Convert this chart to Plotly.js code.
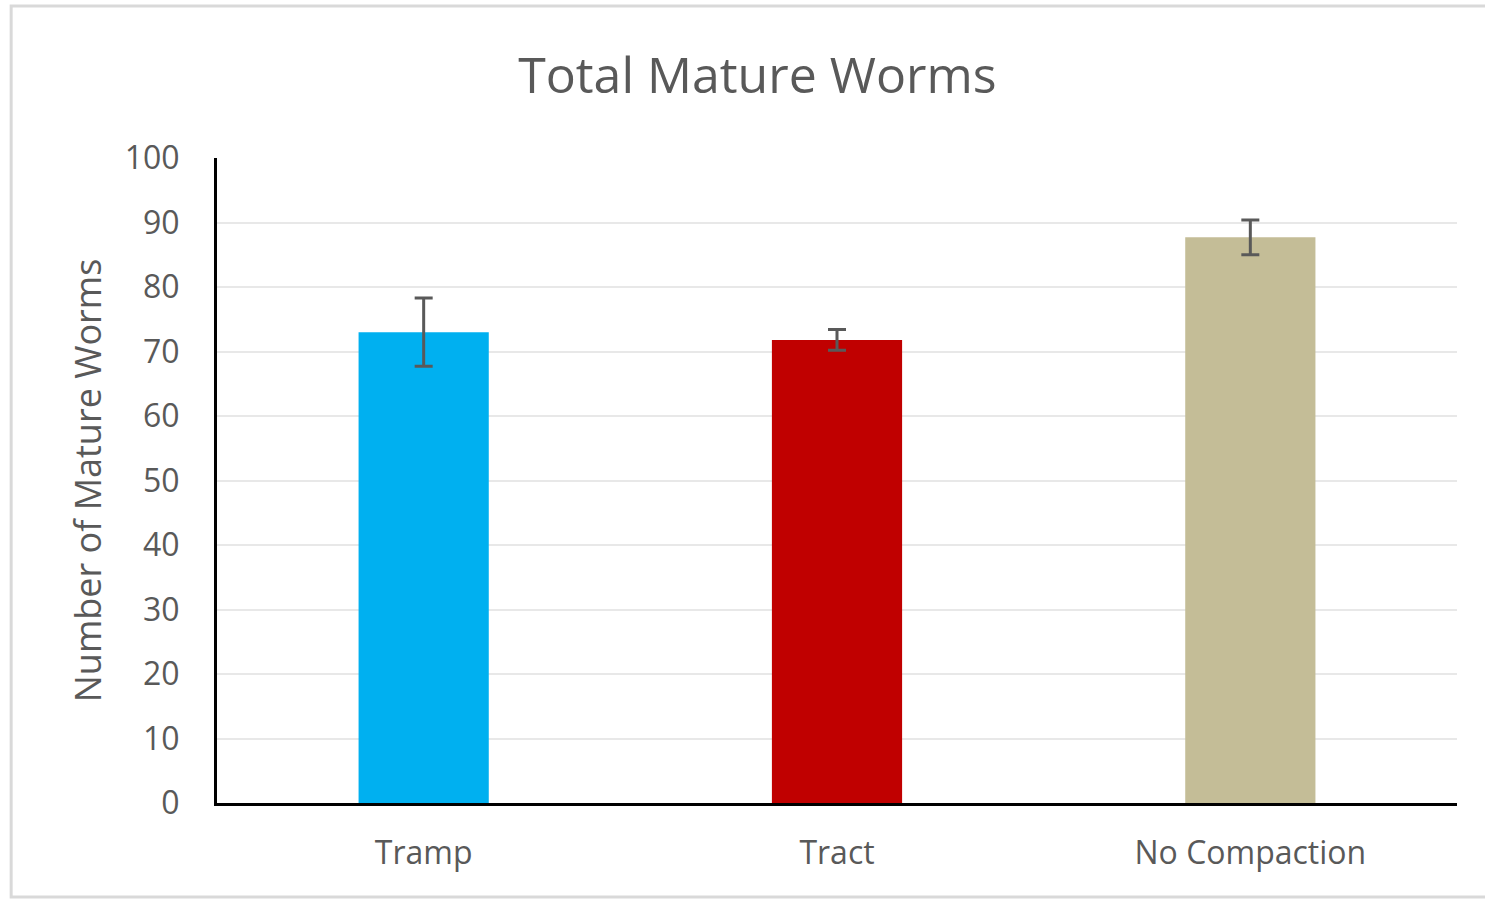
<!DOCTYPE html>
<html>
<head>
<meta charset="utf-8">
<script src="https://cdn.plot.ly/plotly-3.0.1.min.js"></script>
<style>html,body{margin:0;padding:0;background:#fff;}#chart{width:1485px;height:899px;}</style>
</head>
<body>
<div id="chart"></div>
<script>
const categories = ["Tramp", "Tract", "No Compaction"];
const values = [73.0, 71.8, 87.7];
const errors = [5.3, 1.6, 2.7];
const barColors = ["#00B0F0", "#C00000", "#C4BD97"];
const yTicks = [0, 10, 20, 30, 40, 50, 60, 70, 80, 90, 100];

const trace = {
  type: "bar",
  x: categories,
  y: values,
  marker: {color: barColors},
  error_y: {type: "data", array: errors, visible: true, color: "#595959", thickness: 3, width: 9},
  hoverinfo: "x+y"
};

const layout = {
  width: 1485, height: 899,
  margin: {l: 217, r: 28, t: 158, b: 96},
  paper_bgcolor: "#ffffff", plot_bgcolor: "#ffffff",
  font: {family: "Open Sans, sans-serif", color: "#595959"},
  title: {text: "Total Mature Worms", font: {size: 50, color: "#595959"}, x: 0.51, xanchor: "center", y: 0.916, yanchor: "middle"},
  bargap: 0.685,
  showlegend: false,
  xaxis: {
    showline: true, linecolor: "#000000", linewidth: 3,
    showgrid: false, ticks: "", ticklabelstandoff: 20,
    tickfont: {size: 32, color: "#595959"}
  },
  yaxis: {
    range: [0, 100], tickvals: yTicks, ticktext: yTicks.map(String),
    showline: true, linecolor: "#000000", linewidth: 3,
    showgrid: true, gridcolor: "#e8e8e8", gridwidth: 2,
    zeroline: false, ticks: "", ticklabelstandoff: 28,
    tickfont: {size: 32, color: "#595959"},
    title: {text: "Number of Mature Worms", font: {size: 36, color: "#595959"}, standoff: 13}
  },
  shapes: [{
    type: "rect", xref: "paper", yref: "paper",
    x0: -0.166, x1: 1.03, y0: -0.1457, y1: 1.2357,
    line: {color: "#d9d9d9", width: 3}, fillcolor: "rgba(0,0,0,0)", layer: "below"
  }]
};

Plotly.newPlot("chart", [trace], layout, {displayModeBar: false, staticPlot: true});
</script>
</body>
</html>
